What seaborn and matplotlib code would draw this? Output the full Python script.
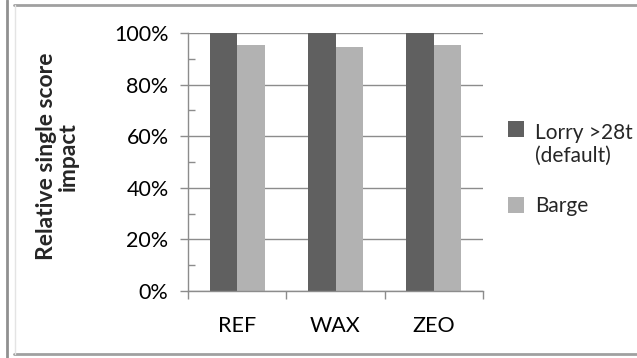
import matplotlib
matplotlib.use("Agg")
import matplotlib.pyplot as plt
from matplotlib.lines import Line2D
from matplotlib.patches import Rectangle
from matplotlib.legend_handler import HandlerPatch
from matplotlib.ticker import PercentFormatter, MultipleLocator, FixedLocator
import seaborn as sns
import pandas as pd

# Relative single score impact per scenario and transport mode
scenarios = ["REF", "WAX", "ZEO"]
modes = ["Lorry >28t\n(default)", "Barge"]
lorry = [1.00, 1.00, 1.00]
barge = [0.952, 0.946, 0.952]
colors = ["#606060", "#b2b2b2"]

df = pd.DataFrame({
    "scenario": scenarios * 2,
    "mode": [modes[0]] * 3 + [modes[1]] * 3,
    "impact": lorry + barge,
})

sns.set_theme(style="white")
plt.rcParams["font.family"] = ["Lato", "DejaVu Sans"]

fig = plt.figure(figsize=(6.37, 3.58), dpi=100)
ax = fig.add_axes([188 / 637, 1 - 291 / 358, 295 / 637, 258 / 358])

sns.barplot(data=df, x="scenario", y="impact", hue="mode",
            palette=colors, width=0.56, ax=ax, saturation=1,
            edgecolor="none", linewidth=0, legend=True)

grid_c = "#8c8c8c"
ax.set_ylim(0, 1)
ax.set_xlim(-0.5, 2.5)
ax.yaxis.set_major_locator(MultipleLocator(0.2))
ax.yaxis.set_minor_locator(MultipleLocator(0.1))
ax.yaxis.set_major_formatter(PercentFormatter(1.0, decimals=0))
ax.grid(axis="y", which="major", color=grid_c, linewidth=1.0)
ax.set_axisbelow(True)

for side in ["top", "right"]:
    ax.spines[side].set_visible(False)
for side in ["left", "bottom"]:
    ax.spines[side].set_color(grid_c)
    ax.spines[side].set_linewidth(1.0)

ax.tick_params(axis="y", which="major", direction="out", length=6,
               width=1, color=grid_c, labelsize=15.5, pad=8, left=True)
ax.tick_params(axis="y", which="minor", direction="in", length=5,
               width=1, color=grid_c, left=True)
ax.tick_params(axis="x", which="major", length=0, labelsize=15.5, pad=18)
ax.xaxis.set_minor_locator(FixedLocator([-0.5, 0.5, 1.5, 2.5]))
ax.tick_params(axis="x", which="minor", direction="out", length=6,
               width=1, color=grid_c, bottom=True)
for lab in ax.get_xticklabels() + ax.get_yticklabels():
    lab.set_color("#000000")

ax.set_xlabel("")
ax.set_ylabel("Relative single score\nimpact", fontsize=16.5, fontweight="bold",
              linespacing=1.05)
ax.yaxis.set_label_coords(-0.37, 0.521)


class TopAlignedSquare(HandlerPatch):
    """Square legend key aligned with the first line of a wrapped label."""

    def __init__(self, lift=0.0, **kw):
        super().__init__(**kw)
        self.lift = lift

    def create_artists(self, legend, orig_handle, xdescent, ydescent,
                       width, height, fontsize, trans):
        side = height
        p = Rectangle((-xdescent, -ydescent + self.lift), side, side,
                      facecolor=orig_handle.get_facecolor(), edgecolor="none",
                      transform=trans)
        return [p]


handles, labels = ax.get_legend_handles_labels()
leg = ax.legend(handles, labels, loc="upper left",
                bbox_to_anchor=(508 / 637, 1 - 123 / 358),
                bbox_transform=fig.transFigure, frameon=False,
                fontsize=15, handlelength=0.8, handleheight=0.8,
                handletextpad=0.5, labelspacing=1.45, borderpad=0,
                borderaxespad=0,
                handler_map={handles[0]: TopAlignedSquare(lift=11.5),
                             handles[1]: TopAlignedSquare(lift=0.0)})

# outer borders of the chart area
fig.add_artist(Line2D([7 / 637, 7 / 637], [0, 1], color="#909090",
                      linewidth=2, transform=fig.transFigure))
fig.add_artist(Line2D([14 / 637, 1], [1 - 5 / 358, 1 - 5 / 358],
                      color="#a0a0a0", linewidth=2, transform=fig.transFigure))
fig.add_artist(Line2D([14 / 637, 1], [1 - 354 / 358, 1 - 354 / 358],
                      color="#a0a0a0", linewidth=2, transform=fig.transFigure))
fig.add_artist(Line2D([14.5 / 637, 14.5 / 637], [1 - 354 / 358, 1 - 5 / 358],
                      color="#e4e4e4", linewidth=1, transform=fig.transFigure))

fig.savefig("out.png", dpi=100)
